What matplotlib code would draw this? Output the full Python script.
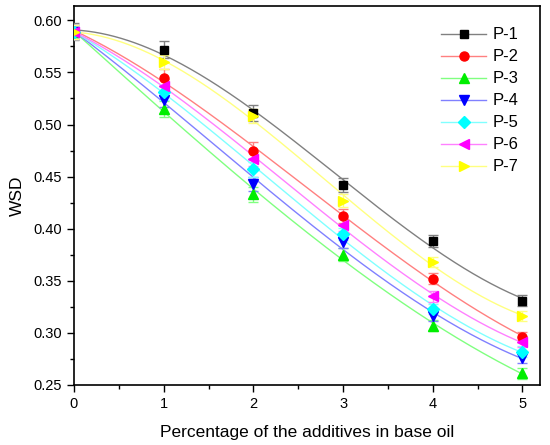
import numpy as np
import matplotlib
matplotlib.use("Agg")
import matplotlib.pyplot as plt

plt.rcParams['font.family'] = ['Liberation Sans', 'DejaVu Sans']

# additive percentage
x = [0, 1, 2, 3, 4, 5]

# wear scar diameter per sample
p1 = [0.589, 0.572, 0.511, 0.442, 0.388, 0.331]
p2 = [0.589, 0.545, 0.475, 0.412, 0.352, 0.296]
p3 = [0.589, 0.515, 0.433, 0.375, 0.307, 0.261]
p4 = [0.589, 0.524, 0.443, 0.387, 0.316, 0.276]
p5 = [0.589, 0.531, 0.457, 0.395, 0.323, 0.282]
p6 = [0.589, 0.537, 0.467, 0.404, 0.335, 0.291]
p7 = [0.589, 0.560, 0.508, 0.427, 0.368, 0.316]

err1 = [0.008, 0.008, 0.008, 0.007, 0.006, 0.005]
err2 = [0.007, 0.008, 0.008, 0.007, 0.005, 0.005]
err3 = [0.007, 0.008, 0.007, 0.006, 0.005, 0.005]
err4 = [0.007, 0.007, 0.007, 0.006, 0.005, 0.005]
err5 = [0.007, 0.007, 0.007, 0.006, 0.005, 0.005]
err6 = [0.007, 0.007, 0.007, 0.006, 0.005, 0.005]
err7 = [0.007, 0.007, 0.007, 0.006, 0.005, 0.005]

labels = ['P-1', 'P-2', 'P-3', 'P-4', 'P-5', 'P-6', 'P-7']
series = [p1, p2, p3, p4, p5, p6, p7]
errors = [err1, err2, err3, err4, err5, err6, err7]

markers = ['s', 'o', '^', 'v', 'D', '<', '>']
mcolors = ['#000000', '#ff0000', '#00ee00', '#0000ff', '#00ffff', '#ff00ff', '#ffff00']
lcolors = ['#808080', '#ff8080', '#80ff80', '#8080ff', '#80ffff', '#ff80ff', '#ffff80']
msizes = [6, 6.5, 7.5, 7.5, 6, 7.5, 7.5]

fig = plt.figure(figsize=(5.5, 4.45), dpi=100)
ax = fig.add_axes([0.1345, 0.135, 0.848, 0.852])

xs = np.linspace(0, 5, 200)
for y, e, lab, m, mc, lc, ms in zip(series, errors, labels, markers, mcolors, lcolors, msizes):
    coef = np.polyfit(x, y, 3)
    ax.plot(xs, np.polyval(coef, xs), color=lc, lw=1.0, zorder=2)
    ax.errorbar(x, y, yerr=e, fmt='none', ecolor=lc, elinewidth=1.0,
                capsize=3.5, capthick=1.0, zorder=3)
    ax.plot(x, y, linestyle='none', marker=m, color=mc, markersize=ms, zorder=4)
    ax.plot([], [], color=lc, lw=1.0, marker=m, markerfacecolor=mc,
            markeredgecolor=mc, markersize=ms, label=lab)

ax.set_xlim(0, 5.2)
ax.set_ylim(0.25, 0.614)
ax.set_xticks([0, 1, 2, 3, 4, 5])
ax.set_xticks([0.5, 1.5, 2.5, 3.5, 4.5], minor=True)
ax.set_yticks(np.arange(0.25, 0.601, 0.05))
ax.set_yticks(np.arange(0.275, 0.61, 0.05), minor=True)
ax.yaxis.set_major_formatter(matplotlib.ticker.FormatStrFormatter('%.2f'))
ax.tick_params(which='both', direction='out', labelsize=10.5, width=1.0)
ax.tick_params(which='major', length=5)
ax.tick_params(which='minor', length=3)
for s in ax.spines.values():
    s.set_linewidth(1.2)

ax.set_xlabel('Percentage of the additives in base oil', fontsize=12.5, labelpad=10)
ax.set_ylabel('WSD', fontsize=12.5, labelpad=6)

ax.legend(loc='upper right', frameon=False, fontsize=12, handlelength=2.7,
          handletextpad=0.4, labelspacing=0.42, borderaxespad=0.9)

fig.savefig('out.png', dpi=100)
